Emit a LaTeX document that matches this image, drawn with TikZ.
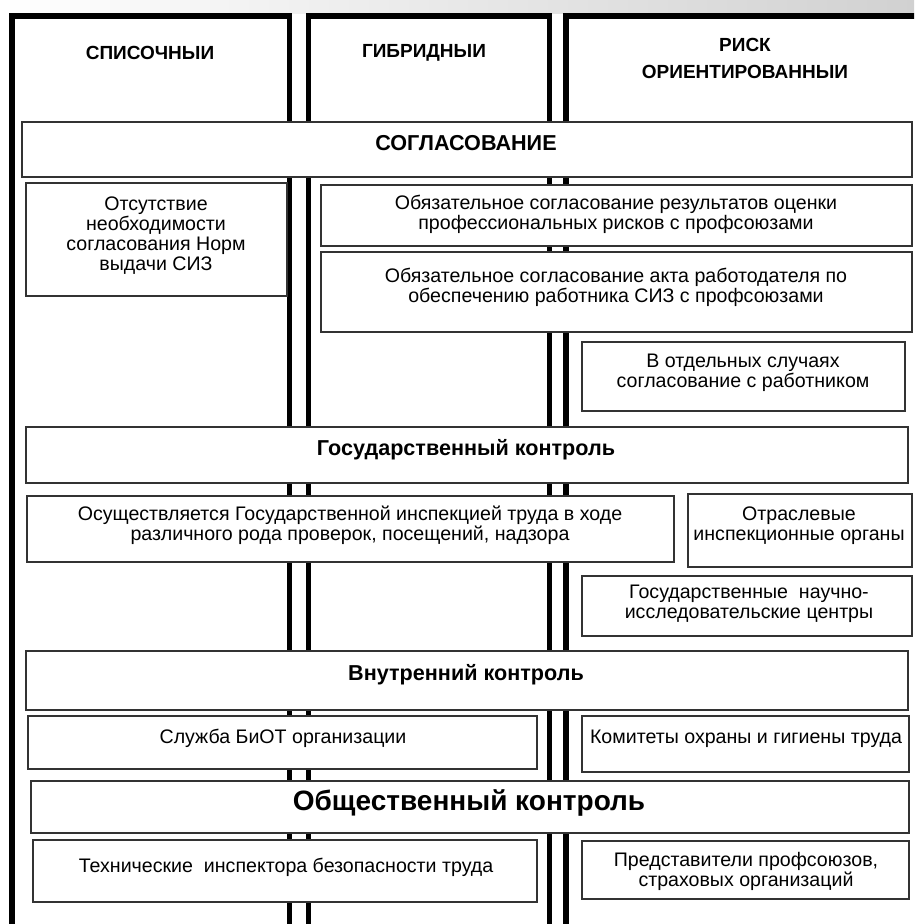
\documentclass[tikz,border=0pt]{standalone}
\usepackage{fontspec}
\setmainfont{Liberation Sans}
\begin{document}
\begin{tikzpicture}[x=1pt, y=-1pt,
		boxline/.style={draw=black!80, line width=1.6pt, fill=white},
		colline/.style={draw=black, line width=5.7pt},
		txt/.style={align=center, inner sep=0pt, font=\fontsize{19.6}{20}\selectfont},
		headtxt/.style={align=center, inner sep=0pt, font=\fontsize{21.6}{24}\selectfont\bfseries},
		coltxt/.style={align=center, inner sep=0pt, font=\fontsize{19}{27}\selectfont\bfseries}]
				\useasboundingbox (0, 0) rectangle (914, 924);
				\clip (0, 0) rectangle (914, 924);
				\shade[left color=white, right color=black!18] (0, 0) rectangle (914, 13);
				% columns
				\draw[colline] (12, 940) -- (12, 16) -- (289.5, 16) -- (289.5, 940);
				\draw[colline] (308.5, 940) -- (308.5, 16) -- (549.5, 16) -- (549.5, 940);
				\draw[colline] (566, 940) -- (566, 16) -- (940, 16) -- (940, 940);
				\node[coltxt] (spis) at (150, 53) {СПИСОЧНЫИ};
				\node[coltxt] (gibr) at (424, 53) {ГИБРИДНЫИ};
				\node[coltxt] (risk) at (745, 58) {РИСК\\ОРИЕНТИРОВАННЫИ};
				% boxes
				\draw[boxline] (22, 122) rectangle (912, 177);
				\draw[boxline] (26, 183) rectangle (287, 296);
				\draw[boxline] (321, 185) rectangle (912, 246);
				\draw[boxline] (321, 252) rectangle (912, 332);
				\draw[boxline] (582, 342) rectangle (905, 411);
				\draw[boxline] (26, 427) rectangle (908, 483);
				\draw[boxline] (27, 496) rectangle (674, 562);
				\draw[boxline] (688, 494) rectangle (912, 567);
				\draw[boxline] (582, 576) rectangle (912, 636);
				\draw[boxline] (26, 651) rectangle (908, 710);
				\draw[boxline] (28, 716) rectangle (537, 769);
				\draw[boxline] (582, 716) rectangle (909, 772);
				\draw[boxline] (31, 781) rectangle (909, 833);
				\draw[boxline] (33, 840) rectangle (537, 902);
				\draw[boxline] (582, 841) rectangle (909, 899);
				% texts
				\node[headtxt] (sogl) at (466, 143) {СОГЛАСОВАНИЕ};
				\node[txt] (otsut) at (156, 236) {Отсутствие\\необходимости\\согласования Норм\\выдачи СИЗ};
				\node[txt] (obyaz1) at (616, 214.5) {Обязательное согласование результатов оценки\\профессиональных рисков с профсоюзами};
				\node[txt] (obyaz2) at (616, 287) {Обязательное согласование акта работодателя по\\обеспечению работника СИЗ с профсоюзами};
				\node[txt] (otdel) at (743, 372.5) {В отдельных случаях\\согласование с работником};
				\node[headtxt] (goskontr) at (466, 450) {Государственный контроль};
				\node[txt] (osush) at (350, 525.5) {Осуществляется Государственной инспекцией труда в ходе\\различного рода проверок, посещений, надзора};
				\node[txt] (otrasl) at (799, 526) {Отраслевые\\инспекционные органы};
				\node[txt] (gosnauch) at (749, 604) {Государственные\ \ научно-\\исследовательские центры};
				\node[headtxt] (vnutr) at (466, 675) {Внутренний контроль};
				\node[txt] (sluzhba) at (283, 738) {Служба БиОТ организации};
				\node[txt] (komitet) at (746, 739) {Комитеты охраны и гигиены труда};
				\node[headtxt, font=\fontsize{28}{30}\selectfont\bfseries] (obshch) at (469, 803) {Общественный контроль};
				\node[txt] (tekhn) at (286, 867) {Технические\ \ инспектора безопасности труда};
				\node[txt] (predst) at (746, 871) {Представители профсоюзов,\\страховых организаций};
			\end{tikzpicture}
\end{document}
